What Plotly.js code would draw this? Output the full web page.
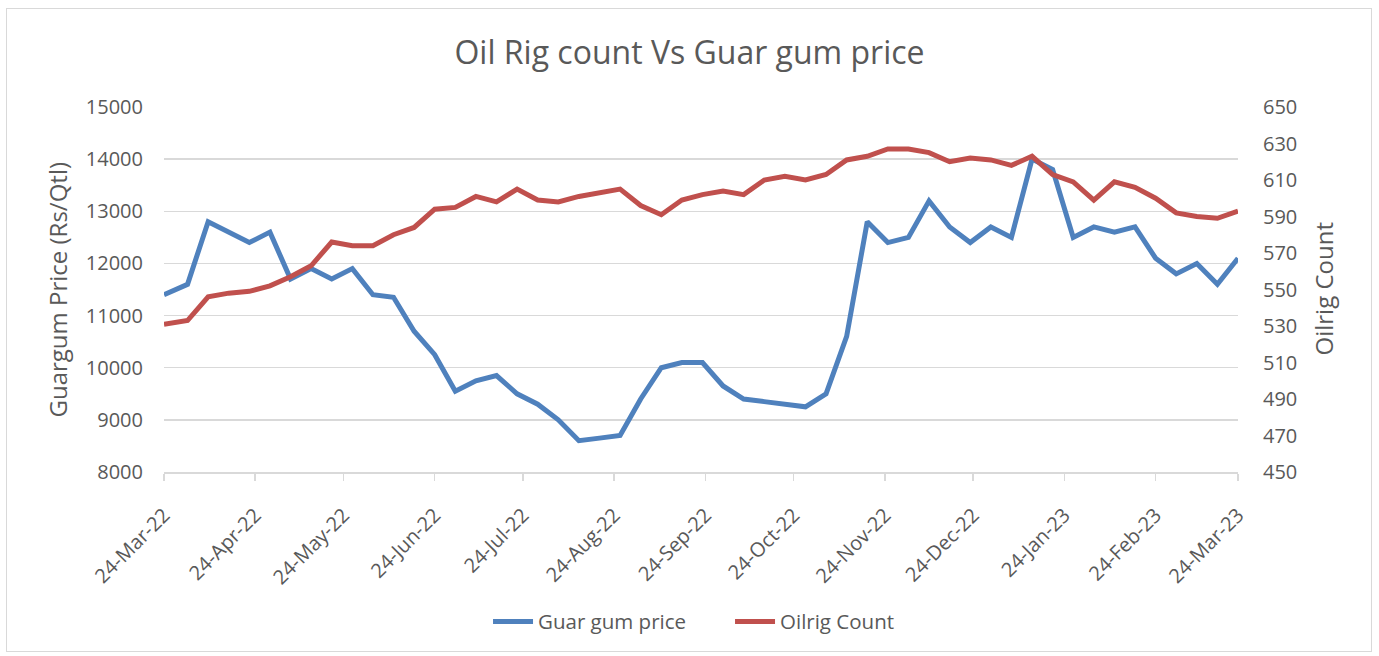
<!DOCTYPE html>
<html>
<head>
<meta charset="utf-8">
<script src="https://cdn.plot.ly/plotly-3.0.1.min.js"></script>
<style>
  html, body { margin: 0; padding: 0; background: #ffffff; }
  #chart { width: 1379px; height: 656px; position: relative; }
  #frame { position: absolute; left: 6px; top: 8px; width: 1364px; height: 642px; border: 1.5px solid #d9d9d9; pointer-events: none; }
</style>
</head>
<body>
<div id="chart"></div>
<div id="frame"></div>
<script>
const dates = [
  '2022-03-24','2022-04-01','2022-04-08','2022-04-15','2022-04-22','2022-04-29',
  '2022-05-06','2022-05-13','2022-05-20','2022-05-27',
  '2022-06-03','2022-06-10','2022-06-17','2022-06-24',
  '2022-07-01','2022-07-08','2022-07-15','2022-07-22','2022-07-29',
  '2022-08-05','2022-08-12','2022-08-19','2022-08-26',
  '2022-09-02','2022-09-09','2022-09-16','2022-09-23','2022-09-30',
  '2022-10-07','2022-10-14','2022-10-21','2022-10-28',
  '2022-11-04','2022-11-11','2022-11-18','2022-11-25',
  '2022-12-02','2022-12-09','2022-12-16','2022-12-23','2022-12-30',
  '2023-01-06','2023-01-13','2023-01-20','2023-01-27',
  '2023-02-03','2023-02-10','2023-02-17','2023-02-24',
  '2023-03-03','2023-03-10','2023-03-17','2023-03-24'
];
const guarGumPrice = [
  11400, 11600, 12800, 12600, 12400, 12600,
  11700, 11900, 11700, 11900,
  11400, 11350, 10700, 10250,
  9550, 9750, 9850, 9500, 9300,
  9000, 8600, 8650, 8700,
  9400, 10000, 10100, 10100, 9650,
  9400, 9350, 9300, 9250,
  9500, 10600, 12800, 12400,
  12500, 13200, 12700, 12400, 12700,
  12500, 14000, 13800, 12500,
  12700, 12600, 12700, 12100,
  11800, 12000, 11600, 12100
];
const oilrigCount = [
  531, 533, 546, 548, 549, 552,
  557, 563, 576, 574,
  574, 580, 584, 594,
  595, 601, 598, 605, 599,
  598, 601, 603, 605,
  596, 591, 599, 602, 604,
  602, 610, 612, 610,
  613, 621, 623, 627,
  627, 625, 620, 622, 621,
  618, 623, 613, 609,
  599, 609, 606, 600,
  592, 590, 589, 593
];
const tickDates = [
  '2022-03-24','2022-04-24','2022-05-24','2022-06-24','2022-07-24','2022-08-24',
  '2022-09-24','2022-10-24','2022-11-24','2022-12-24','2023-01-24','2023-02-24','2023-03-24'
];
const tickLabels = [
  '24-Mar-22','24-Apr-22','24-May-22','24-Jun-22','24-Jul-22','24-Aug-22',
  '24-Sep-22','24-Oct-22','24-Nov-22','24-Dec-22','24-Jan-23','24-Feb-23','24-Mar-23'
];
const leftTitle = 'Guargum Price (Rs/Qtl)';
const rightTitle = 'Oilrig Count';
const chartTitle = 'Oil Rig count Vs Guar gum price';

const FONT = 'Open Sans, sans-serif';
const GREY = '#595959';

const traces = [
  {
    x: dates, y: guarGumPrice, name: 'Guar gum price', type: 'scatter', mode: 'lines',
    line: { color: '#4F81BD', width: 5 }, yaxis: 'y'
  },
  {
    x: dates, y: oilrigCount, name: 'Oilrig Count', type: 'scatter', mode: 'lines',
    line: { color: '#C0504D', width: 5 }, yaxis: 'y2'
  }
];

const layout = {
  width: 1379, height: 656,
  paper_bgcolor: '#ffffff', plot_bgcolor: '#ffffff',
  margin: { l: 164, r: 141, t: 107, b: 184, pad: 0 },
  font: { family: FONT, color: GREY, size: 19 },
  title: {
    text: chartTitle,
    font: { family: FONT, size: 32, color: GREY },
    x: 0.5, xanchor: 'center', y: 0.92, yanchor: 'middle', yref: 'container'
  },
  showlegend: true,
  legend: {
    orientation: 'h', x: 0.3017, xanchor: 'left', y: -0.41, yanchor: 'middle',
    entrywidth: 187, entrywidthmode: 'pixels',
    font: { family: FONT, size: 20.5, color: GREY }, itemwidth: 40, traceorder: 'normal'
  },
  xaxis: {
    type: 'date',
    range: ['2022-03-24', '2023-03-24'],
    tickmode: 'array', tickvals: tickDates, ticktext: tickLabels,
    tickangle: -45,
    tickfont: { family: FONT, size: 20, color: GREY },
    ticklabelstandoff: 15,
    showgrid: false, zeroline: false,
    showline: true, linecolor: '#d9d9d9', linewidth: 1.5,
    ticks: 'outside', ticklen: 7, tickcolor: '#d9d9d9', tickwidth: 1.5
  },
  yaxis: {
    range: [8000, 15000], dtick: 1000, tick0: 8000, tickformat: 'd',
    tickfont: { family: FONT, size: 20, color: GREY },
    showgrid: true, gridcolor: '#d9d9d9', gridwidth: 1.5,
    zeroline: false, showline: false, ticks: '',
    ticklabelstandoff: 20
  },
  yaxis2: {
    range: [450, 650], dtick: 20, tick0: 450, tickformat: 'd',
    overlaying: 'y', side: 'right',
    tickfont: { family: FONT, size: 20, color: GREY },
    showgrid: false, zeroline: false, showline: false, ticks: '',
    ticklabelstandoff: 24
  },
  annotations: [
    { text: leftTitle, xref: 'paper', yref: 'paper', x: 0, y: 0.5, xshift: -107,
      xanchor: 'center', yanchor: 'middle', textangle: -90, showarrow: false,
      font: { family: FONT, size: 24, color: GREY } },
    { text: rightTitle, xref: 'paper', yref: 'paper', x: 1, y: 0.5, xshift: 85,
      xanchor: 'center', yanchor: 'middle', textangle: -90, showarrow: false,
      font: { family: FONT, size: 24, color: GREY } }
  ]
};

Plotly.newPlot('chart', traces, layout, { displayModeBar: false, staticPlot: true });
</script>
</body>
</html>
